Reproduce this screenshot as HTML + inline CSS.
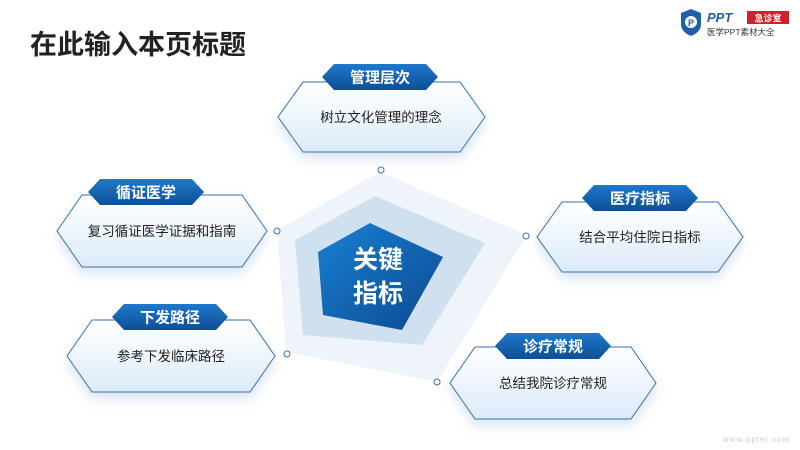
<!DOCTYPE html>
<html><head><meta charset="utf-8"><style>
body{margin:0;width:800px;height:450px;overflow:hidden;background:#fff;font-family:"Liberation Sans","Noto Sans CJK SC",sans-serif}
</style></head><body>
<svg width="800" height="450" viewBox="0 0 800 450" xmlns="http://www.w3.org/2000/svg" style="position:absolute;left:0;top:0">
<defs>
<linearGradient id="box" x1="0" y1="0" x2="0" y2="1"><stop offset="0" stop-color="#ffffff"/><stop offset="1" stop-color="#dcebf9"/></linearGradient>
<linearGradient id="lab" x1="0" y1="0" x2="0" y2="1"><stop offset="0" stop-color="#1f78cc"/><stop offset="1" stop-color="#0d4f95"/></linearGradient>
<linearGradient id="core" x1="0" y1="0" x2="1" y2="1"><stop offset="0" stop-color="#1a7fd4"/><stop offset="1" stop-color="#0b4a8f"/></linearGradient>
<filter id="sh" x="-20%" y="-20%" width="140%" height="160%"><feDropShadow dx="0" dy="6" stdDeviation="6" flood-color="#7fa6d0" flood-opacity="0.3"/></filter>
</defs>
<text x="30" y="54" font-size="27" font-weight="bold" fill="#222" font-family="Liberation Sans,Noto Sans CJK SC,sans-serif">在此输入本页标题</text>
<!-- logo -->
<path d="M681 13 L691 9 L701 13 L701 24 Q701 32 691 36 Q681 32 681 24Z" fill="#1d5fa8"/>
<circle cx="691" cy="22" r="6" fill="#fff"/><text x="691" y="26" font-size="9" font-weight="bold" fill="#1d5fa8" text-anchor="middle">P</text>
<text x="707" y="22" font-size="13" font-weight="bold" font-style="italic" fill="#1d5fa8">PPT</text>
<rect x="747" y="11" width="42" height="13" fill="#d0202a"/><text x="768" y="21.5" font-size="9" font-weight="bold" fill="#fff" text-anchor="middle">急诊室</text>
<text x="707" y="35" font-size="8.5" fill="#333">医学PPT素材大全</text>
<!-- pentagons -->
<polygon points="380,172 527,235 437,382 286,352 277,230" fill="#eef4fa"/>
<polygon points="375,196 485,243 422,345 303,335 295,240" fill="#cfe0ef"/>
<polygon points="370,223 443,257 402,330 323,315 318,252" fill="url(#core)"/>
<text x="378" y="268" font-size="25" font-weight="bold" fill="#fff" text-anchor="middle">关键</text>
<text x="378" y="302" font-size="25" font-weight="bold" fill="#fff" text-anchor="middle">指标</text>
<g fill="#fff" stroke="#3a6fb0" stroke-width="1">
<circle cx="381" cy="170" r="3"/><circle cx="526" cy="236" r="3"/><circle cx="437" cy="382" r="3"/><circle cx="287" cy="354" r="3"/><circle cx="277" cy="231" r="3"/>
</g>
<!-- boxes -->
<g font-size="13.5" fill="#222" text-anchor="middle">
<g transform="translate(278,82)"><polygon filter="url(#sh)" points="0,35 25,0 182,0 207,35 182,70 25,70" fill="url(#box)" stroke="#3a6fb0"/><text x="103" y="40">树立文化管理的理念</text></g>
<g transform="translate(57,195)"><polygon filter="url(#sh)" points="0,36 25,0 185,0 210,36 185,72 25,72" fill="url(#box)" stroke="#3a6fb0"/><text x="105" y="41">复习循证医学证据和指南</text></g>
<g transform="translate(537,202)"><polygon filter="url(#sh)" points="0,35 25,0 181,0 206,35 181,70 25,70" fill="url(#box)" stroke="#3a6fb0"/><text x="103" y="40">结合平均住院日指标</text></g>
<g transform="translate(67,320)"><polygon filter="url(#sh)" points="0,36 25,0 183,0 208,36 183,72 25,72" fill="url(#box)" stroke="#3a6fb0"/><text x="104" y="41">参考下发临床路径</text></g>
<g transform="translate(450,347)"><polygon filter="url(#sh)" points="0,36 25,0 181,0 206,36 181,72 25,72" fill="url(#box)" stroke="#3a6fb0"/><text x="103" y="41">总结我院诊疗常规</text></g>
</g>
<!-- labels -->
<g font-size="15" font-weight="bold" fill="#fff" text-anchor="middle">
<g transform="translate(380,77)"><polygon points="-58,0 -46,-13 46,-13 58,0 46,13 -46,13" fill="url(#lab)"/><text y="5.5">管理层次</text></g>
<g transform="translate(146,192)"><polygon points="-58,0 -46,-13 46,-13 58,0 46,13 -46,13" fill="url(#lab)"/><text y="5.5">循证医学</text></g>
<g transform="translate(640,198)"><polygon points="-58,0 -46,-13 46,-13 58,0 46,13 -46,13" fill="url(#lab)"/><text y="5.5">医疗指标</text></g>
<g transform="translate(170,317)"><polygon points="-58,0 -46,-13 46,-13 58,0 46,13 -46,13" fill="url(#lab)"/><text y="5.5">下发路径</text></g>
<g transform="translate(553,346)"><polygon points="-58,0 -46,-13 46,-13 58,0 46,13 -46,13" fill="url(#lab)"/><text y="5.5">诊疗常规</text></g>
</g>
<text x="790" y="442" font-size="8" fill="#ccc" text-anchor="end" letter-spacing="1">www.ppter.com</text>
</svg>
</body></html>
